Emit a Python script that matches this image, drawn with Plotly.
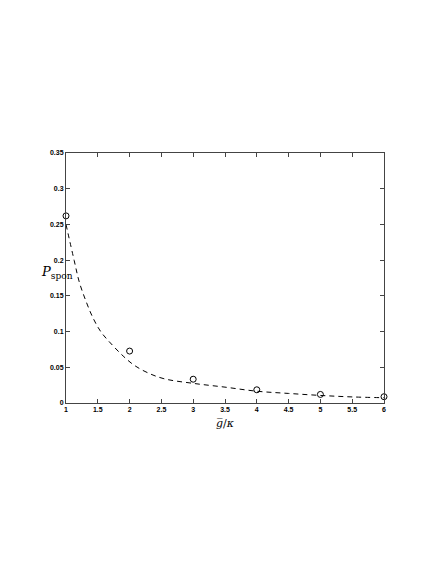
import plotly.graph_objects as go

# measured points (open circles)
g_points = [1, 2, 3, 4, 5, 6]
p_points = [0.262, 0.0727, 0.0333, 0.0185, 0.012, 0.0088]

# dashed reference curve
g_curve = [1.0, 1.13, 1.21, 1.31, 1.42, 1.55, 1.73, 1.91, 2.07, 2.28, 2.54, 3.0, 3.5, 4.0, 4.5, 5.0, 5.5, 6.0]
p_curve = [0.25, 0.199, 0.169, 0.1435, 0.120, 0.0995, 0.081, 0.0648, 0.053, 0.0425, 0.034, 0.0275,
           0.0222, 0.0165, 0.0134, 0.0106, 0.0085, 0.0074]

W, H = 436, 564
L, R, T, B = 58, 60, 145, 169   # page body adds ~7px offset

fig = go.Figure()

fig.add_trace(go.Scatter(
    x=g_curve, y=p_curve, mode="lines", line_shape="spline",
    line=dict(color="black", width=1, dash="5px,4px"),
    showlegend=False,
))
fig.add_trace(go.Scatter(
    x=g_points, y=p_points, mode="markers",
    marker=dict(symbol="circle-open", size=6, color="black", line=dict(width=1)),
    showlegend=False, cliponaxis=False,
))

tick_font = dict(family="Liberation Sans", size=7, color="black", weight="bold")
axis_style = dict(
    showline=True, linecolor="#444", linewidth=1, mirror="ticks",
    ticks="inside", ticklen=4, tickcolor="#444",
    showgrid=False, tickfont=tick_font,
)


def px_to_paper(x, y):
    # positions measured in the reference picture
    return (x - 7 - L) / (W - L - R), (H - B - (y - 7)) / (H - T - B)


ylab_x, ylab_y = px_to_paper(38, 271)
xlab_x, xlab_y = px_to_paper(224, 414)

fig.update_layout(
    width=W, height=H,
    margin=dict(l=L, r=R, t=T, b=B),
    paper_bgcolor="white", plot_bgcolor="white",
    xaxis=dict(range=[1, 6], dtick=0.5, zeroline=False, **axis_style),
    yaxis=dict(range=[0, 0.35], dtick=0.05, zeroline=True, zerolinecolor="#555",
               zerolinewidth=2, **axis_style),
    annotations=[
        dict(text="<i>P</i><sub>spon</sub>", x=ylab_x, y=ylab_y, xref="paper", yref="paper",
             showarrow=False, font=dict(family="DejaVu Serif", size=13, color="black")),
        dict(text="<i>g\u0305</i>/<i>\u03ba</i>", x=xlab_x, y=xlab_y, xref="paper", yref="paper",
             yanchor="top", showarrow=False,
             font=dict(family="DejaVu Serif", size=11, color="black")),
    ],
)

fig.write_html("out.html")
